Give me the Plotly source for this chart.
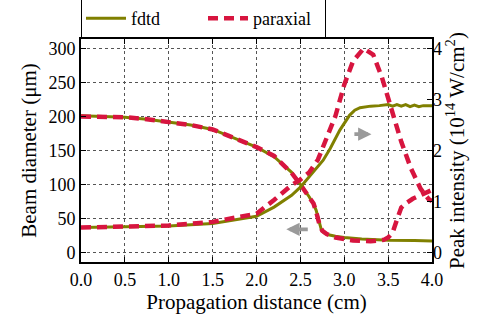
import plotly.graph_objects as go

# ---------------- data ----------------
# Beam diameter (um), left axis
fdtd_diam_x = [0.0, 0.25, 0.5, 0.75, 1.0, 1.25, 1.5, 1.8, 2.0, 2.2, 2.4, 2.5, 2.6, 2.65, 2.68, 2.70, 2.72,
               2.74, 2.77, 2.82, 2.9, 3.0, 3.2, 3.5, 3.8, 4.0]
fdtd_diam = [201, 200.5, 199, 196, 192, 187.5, 181, 166, 155, 141, 118, 100, 82, 71, 62, 52, 40,
             33, 29, 26, 24, 22, 20, 18, 17.5, 17]

par_diam_x = [0.0, 0.25, 0.5, 0.75, 1.0, 1.25, 1.5, 1.8, 2.0, 2.2, 2.4, 2.5, 2.6, 2.65, 2.68, 2.70, 2.72,
              2.75, 2.8, 2.9, 3.0, 3.1, 3.3, 3.4, 3.45, 3.5, 3.55, 3.6, 3.65, 3.7, 3.78, 3.9, 4.0]
par_diam = [200, 200, 199, 196, 192, 187.5, 181, 166, 155, 142, 117, 100, 82, 72, 60, 48, 40,
            32, 27, 22, 19, 17.5, 16.5, 17, 18.5, 22, 29, 48, 66, 72, 79, 86, 92]

# Peak intensity (10^14 W/cm^2), right axis
fdtd_int_x = [0.0, 0.5, 1.0, 1.5, 1.8, 2.0, 2.2, 2.4, 2.5, 2.6, 2.7, 2.76, 2.84, 2.95, 3.06, 3.12, 3.18,
              3.3, 3.4, 3.5, 3.55, 3.6, 3.65, 3.7, 3.75, 3.8, 3.85, 3.9, 4.0]
fdtd_int = [0.49, 0.50, 0.52, 0.57, 0.65, 0.71, 0.89, 1.12, 1.28, 1.49, 1.68, 1.81, 2.04, 2.40, 2.69,
            2.79, 2.84, 2.87, 2.88, 2.90, 2.87, 2.90, 2.87, 2.90, 2.86, 2.89, 2.86, 2.88, 2.88]

par_int_x = [0.0, 0.5, 1.0, 1.5, 1.9, 2.0, 2.2, 2.4, 2.5, 2.6, 2.7, 2.8, 2.9, 3.0, 3.1, 3.22, 3.33,
             3.43, 3.53, 3.65, 3.76, 3.87, 3.96, 4.0]
par_int = [0.49, 0.51, 0.53, 0.60, 0.72, 0.76, 1.03, 1.32, 1.43, 1.57, 1.82, 2.24, 2.68, 3.29, 3.75,
           4.00, 3.88, 3.43, 2.83, 2.17, 1.65, 1.25, 1.05, 1.01]

x_ticks = [0.0, 0.5, 1.0, 1.5, 2.0, 2.5, 3.0, 3.5, 4.0]
x_tick_labels = ["0.0", "0.5", "1.0", "1.5", "2.0", "2.5", "3.0", "3.5", "4.0"]
y_ticks = [0, 50, 100, 150, 200, 250, 300]
y2_ticks = [0, 1, 2, 3, 4]

# arrows: (tail x, head x, y in left-axis units)
arrow_right = (3.07, 3.31, 174)
arrow_left = (2.63, 2.34, 34)

OLIVE = "#808000"
CRIMSON = "#D7153F"
FONT = "Liberation Serif"

fig = go.Figure()
fig.add_trace(go.Scatter(x=fdtd_diam_x, y=fdtd_diam, mode="lines", name="fdtd", legendgroup="fdtd",
                         line=dict(color=OLIVE, width=3)))
fig.add_trace(go.Scatter(x=fdtd_int_x, y=fdtd_int, mode="lines", name="fdtd", legendgroup="fdtd",
                         showlegend=False, yaxis="y2", line=dict(color=OLIVE, width=3)))
fig.add_trace(go.Scatter(x=par_diam_x, y=par_diam, mode="lines", name="paraxial", legendgroup="par",
                         line=dict(color=CRIMSON, width=4.5, dash="10px,6px")))
fig.add_trace(go.Scatter(x=par_int_x, y=par_int, mode="lines", name="paraxial", legendgroup="par",
                         showlegend=False, yaxis="y2", line=dict(color=CRIMSON, width=4.5, dash="10px,6px")))

for (x0, x1, yv) in (arrow_right, arrow_left):
    fig.add_annotation(x=x1, y=yv, ax=x0, ay=yv, xref="x", yref="y", axref="x", ayref="y",
                       showarrow=True, arrowhead=2, arrowsize=0.7, arrowwidth=3.8, arrowcolor="#9a9a9a",
                       text=" ")

ymin, ymax = -14, 314
fig.update_layout(
    width=498, height=317,
    margin=dict(l=81, r=66, t=39, b=55, autoexpand=False),
    plot_bgcolor="white", paper_bgcolor="white",
    font=dict(family=FONT, size=18, color="black"),
    showlegend=True,
    legend=dict(orientation="h", x=0, y=1.004, xanchor="left", yanchor="bottom",
                bordercolor="black", borderwidth=1, font=dict(size=18, family=FONT),
                itemwidth=40, entrywidth=67, tracegroupgap=0, bgcolor="white"),
    xaxis=dict(range=[0, 4], tickvals=x_ticks, ticktext=x_tick_labels, ticks="inside", ticklen=5,
               tickcolor="black", showline=True, linecolor="black", linewidth=2, mirror="ticks",
               showgrid=True, gridcolor="#555", griddash="dot", gridwidth=1, zeroline=False,
               title=dict(text="Propagation distance (cm)", font=dict(size=21, family=FONT), standoff=6),
               tickfont=dict(size=18, family=FONT)),
    yaxis=dict(range=[ymin, ymax], tickvals=y_ticks, ticks="inside", ticklen=5, tickcolor="black",
               showline=True, linecolor="black", linewidth=2, mirror=True,
               showgrid=True, gridcolor="#555", griddash="dot", gridwidth=1, zeroline=False,
               title=dict(text="Beam diameter (μm)", font=dict(size=21, family=FONT), standoff=6),
               tickfont=dict(size=18, family=FONT)),
    yaxis2=dict(range=[ymin / 75, ymax / 75], tickvals=y2_ticks, overlaying="y", side="right",
                ticks="inside", ticklen=5, tickcolor="black", showline=False, showgrid=False,
                zeroline=False,
                title=dict(text="Peak intensity (10<sup>14</sup> W/cm<sup>2</sup>)",
                           font=dict(size=21, family=FONT), standoff=6),
                tickfont=dict(size=18, family=FONT)),
)

fig.write_html("out.html", config={"displayModeBar": False},
               post_script="document.body.style.margin='0';document.body.style.padding='0';")
